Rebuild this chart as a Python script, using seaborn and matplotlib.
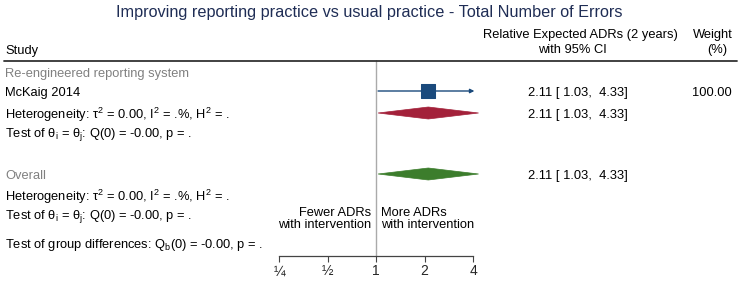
import numpy as np
import pandas as pd
import matplotlib
matplotlib.use("Agg")
import matplotlib.pyplot as plt
import seaborn as sns
from matplotlib.patches import Polygon

sns.set_theme(style="white")
plt.rcParams['font.family'] = ['Liberation Sans', 'DejaVu Sans']
plt.rcParams['mathtext.fontset'] = 'custom'
plt.rcParams['mathtext.rm'] = 'Liberation Sans'
plt.rcParams['mathtext.it'] = 'Liberation Sans'

# data
study = ["McKaig 2014"]
est = [2.11]
lo = [1.03]
hi = [4.33]
weight = [100.00]
sub_est, sub_lo, sub_hi = 2.11, 1.03, 4.33
all_est, all_lo, all_hi = 2.11, 1.03, 4.33
ticks = [0.25, 0.5, 1, 2, 4]
tick_labels = ["\u00bc", "\u00bd", "1", "2", "4"]

W, H = 738, 284
fig = plt.figure(figsize=(W / 100, H / 100), dpi=100)

def px(x, y):
    return x / W, 1 - y / H

def ftext(x, y, s, **kw):
    kw.setdefault("fontsize", 9.3)
    kw.setdefault("color", "black")
    fig.text(*px(x, y + 1.8), s, va="center", **kw)

navy = "#1a4a7c"
red = "#a3213a"
green = "#3c7d2c"
grey = "#808080"

# forest axes: rows in pixel units
ax = fig.add_axes([279 / W, (H - 256) / H, (473 - 279) / W, (256 - 60) / H])
ax.set_xscale("log", base=2)
ax.set_xlim(0.25, 4)
ax.set_ylim(256, 60)
ax.patch.set_alpha(0)
for s in ["top", "right", "left"]:
    ax.spines[s].set_visible(False)
ax.spines["bottom"].set_color("#444444")
ax.spines["bottom"].set_linewidth(0.9)
ax.set_xticks(ticks)
ax.set_xticklabels(tick_labels, fontsize=10)
ax.minorticks_off()
ax.tick_params(axis="x", direction="out", length=4, width=0.8, color="#444444", pad=2, bottom=True)
ax.set_yticks([])

ax.axvline(1, color="#aaaaaa", lw=1.0, zorder=0)

df = pd.DataFrame({"study": study, "est": est, "lo": lo, "hi": hi, "w": weight, "y": [91]})
xmax = ax.get_xlim()[1]
for _, r in df.iterrows():
    ax.annotate("", xy=(min(r["hi"], xmax) * 1.02, r["y"]), xytext=(r["lo"], r["y"]),
                arrowprops=dict(arrowstyle="-|>", color=navy, lw=1.0, mutation_scale=6,
                                shrinkA=0, shrinkB=0), annotation_clip=False)
    sns.scatterplot(x=[r["est"]], y=[r["y"]], ax=ax, marker="s", s=90, color=navy,
                    edgecolor=navy, zorder=3, clip_on=False, legend=False)

def diamond(e, l, h, y, c):
    p = Polygon([(l, y), (e, y - 6), (h, y), (e, y + 6)], closed=True,
                facecolor=c, edgecolor=c, lw=0.5, clip_on=False)
    ax.add_patch(p)

diamond(sub_est, sub_lo, sub_hi, 113, red)
diamond(all_est, all_lo, all_hi, 174, green)

# title and header
fig.text(*px(369, 12), "Improving reporting practice vs usual practice - Total Number of Errors",
         ha="center", va="center", fontsize=11.7, color="#1f2d55")
ftext(5, 49, "Study")
ftext(580, 33, "Relative Expected ADRs (2 years)", ha="center")
ftext(572, 48, "with 95% CI", ha="center")
ftext(713, 33, "Weight", ha="center")
ftext(717, 48, "(%)", ha="center")
fig.add_artist(plt.Line2D([4 / W, 737 / W], [1 - 60.5 / H] * 2, color="#333333", lw=1.3))

fmt = lambda e, l, h: f"{e:.2f} [ {l:.2f},  {h:.2f}]"
het = r"Heterogeneity: τ$^\mathrm{2}$ = 0.00, I$^\mathrm{2}$ = .%, H$^\mathrm{2}$ = ."
tst = r"Test of θ$_\mathrm{i}$ = θ$_\mathrm{j}$: Q(0) = -0.00, p = ."

ftext(5, 72, "Re-engineered reporting system", color=grey)
for _, r in df.iterrows():
    ftext(5, r["y"], r["study"])
    ftext(628, r["y"], fmt(r["est"], r["lo"], r["hi"]), ha="right")
    ftext(732, r["y"], f"{r['w']:.2f}", ha="right")
ftext(5, 113, het)
ftext(628, 113, fmt(sub_est, sub_lo, sub_hi), ha="right")
ftext(5, 133, tst)

ftext(5, 174, "Overall", color=grey)
ftext(628, 174, fmt(all_est, all_lo, all_hi), ha="right")
ftext(5, 195, het)
ftext(5, 215, tst)
ftext(5, 243, r"Test of group differences: Q$_\mathrm{b}$(0) = -0.00, p = .")

ftext(371, 217, "Fewer ADRs\nwith intervention", ha="right", linespacing=1.05)
ftext(381, 217, "More ADRs\nwith intervention", ha="left", linespacing=1.05)

fig.savefig("out.png", dpi=100)
